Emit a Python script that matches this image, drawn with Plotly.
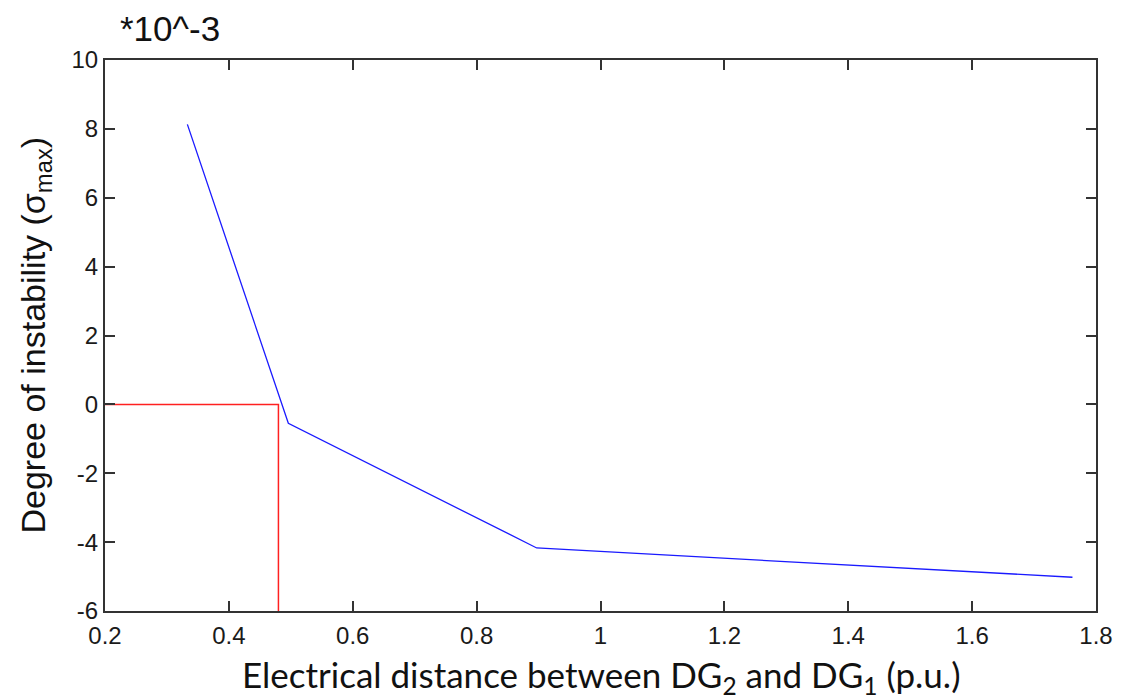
import plotly.graph_objects as go

# Data
x_vals = [0.333, 0.496, 0.897, 1.762]
y_vals = [8.13, -0.55, -4.17, -5.02]
ref_x = [0.2, 0.48, 0.48]
ref_y = [0.0, 0.0, -6.0]
x_ticks = [0.2, 0.4, 0.6, 0.8, 1.0, 1.2, 1.4, 1.6, 1.8]
x_ticklabels = ["0.2", "0.4", "0.6", "0.8", "1", "1.2", "1.4", "1.6", "1.8"]
y_ticks = [-6, -4, -2, 0, 2, 4, 6, 8, 10]
y_ticklabels = ["-6", "-4", "-2", "0", "2", "4", "6", "8", "10"]

fig = go.Figure()
fig.add_trace(go.Scatter(x=ref_x, y=ref_y, mode="lines",
                         line=dict(color="#ff2020", width=1.5), showlegend=False))
fig.add_trace(go.Scatter(x=x_vals, y=y_vals, mode="lines",
                         line=dict(color="#1a1aff", width=1.3), showlegend=False))

axis_common = dict(showline=True, linecolor="#333333", linewidth=2, mirror="ticks",
                   ticks="inside", ticklen=10, tickwidth=1.5, tickcolor="#333333",
                   showgrid=False, zeroline=False,
                   tickfont=dict(family="Liberation Sans, Arial", size=24, color="#1a1a1a"))

fig.update_xaxes(range=[0.2, 1.8], tickvals=x_ticks, ticktext=x_ticklabels,
                 ticklabelstandoff=2, **axis_common)
fig.update_yaxes(range=[-6, 10], tickvals=y_ticks, ticktext=y_ticklabels,
                 ticklabelstandoff=0, **axis_common)

fig.add_annotation(text="Electrical distance between DG<sub>2</sub> and DG<sub>1</sub> (p.u.)",
                   xref="paper", yref="paper", x=0.5, y=0, xanchor="center", yanchor="middle",
                   yshift=-65, showarrow=False,
                   font=dict(family="Lato, Open Sans", size=35, color="#111111"))
fig.add_annotation(text="Degree of instability (σ<sub>max</sub>)",
                   xref="paper", yref="paper", x=0, y=0.5, xanchor="center", yanchor="middle",
                   xshift=-70, textangle=-90, showarrow=False,
                   font=dict(family="Liberation Sans, Arial", size=34, color="#111111"))
fig.add_annotation(text="*10^-3", xref="paper", yref="paper", x=0.013, y=1.0,
                   xanchor="left", yanchor="middle", yshift=32, showarrow=False,
                   font=dict(family="Liberation Sans, Arial", size=35, color="#111111"))

fig.update_layout(width=1125, height=700, plot_bgcolor="white", paper_bgcolor="white",
                  margin=dict(l=105, r=21, t=60, b=89))

fig.write_html("out.html", config={"displayModeBar": False},
               post_script="document.body.style.margin='0';")
